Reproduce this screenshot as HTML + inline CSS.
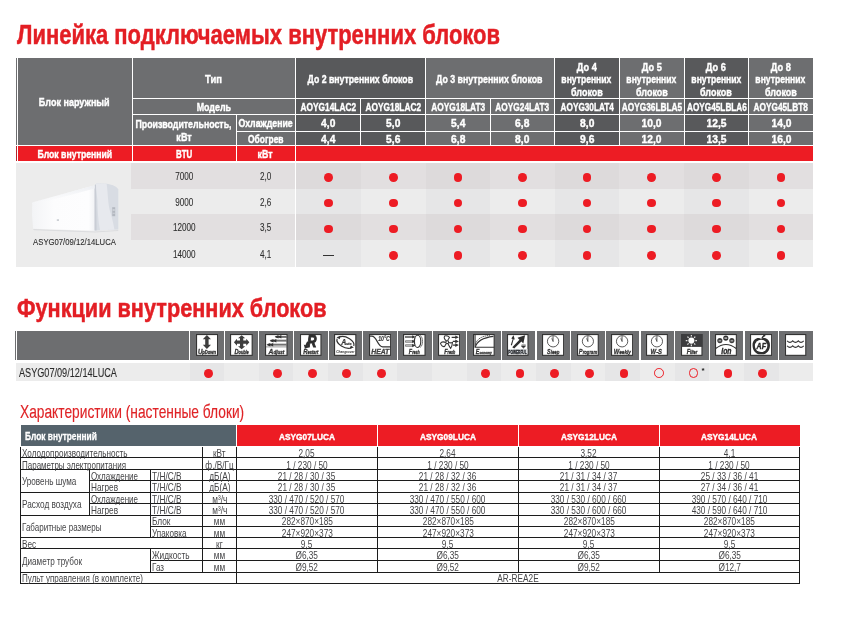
<!DOCTYPE html>
<html lang="ru"><head><meta charset="utf-8"><title>Линейка подключаемых внутренних блоков</title>
<style>
html,body{margin:0;padding:0;background:#fff}
body{width:851px;height:636px;position:relative;overflow:hidden;font-family:"Liberation Sans",sans-serif}
body>div,body>span,body>svg,body>i{position:absolute;display:block}
body{will-change:transform}
body>span{white-space:nowrap}
i.d{width:8.8px;height:8.8px;border-radius:50%;background:#ed1c24}
i.o{width:7.7px;height:7.7px;border-radius:50%;border:.65px solid #ed1c24}
</style></head><body>
<span style="top:21.80px;font-size:27px;line-height:27px;color:#e31e24;font-weight:700;-webkit-text-stroke:0.5px #e31e24;left:17px;transform-origin:0 0;transform:scaleX(0.8142);">Линейка подключаемых внутренних блоков</span>
<div style="left:16px;top:58px;width:1px;height:87px;background:#6d6e70;"></div>
<div style="left:16px;top:146px;width:1px;height:15px;background:#b5242a;"></div>
<div style="left:18px;top:58px;width:277.5px;height:87px;background:#6d6e70;"></div>
<div style="left:295.5px;top:58px;width:65px;height:87px;background:#58595b;"></div>
<div style="left:360.5px;top:58px;width:65px;height:87px;background:#58595b;"></div>
<div style="left:425.5px;top:58px;width:64.5px;height:87px;background:#6d6e70;"></div>
<div style="left:490px;top:58px;width:64.5px;height:87px;background:#6d6e70;"></div>
<div style="left:554.5px;top:58px;width:64.5px;height:87px;background:#58595b;"></div>
<div style="left:619px;top:58px;width:65px;height:87px;background:#6d6e70;"></div>
<div style="left:684px;top:58px;width:64.5px;height:87px;background:#58595b;"></div>
<div style="left:748.5px;top:58px;width:64.5px;height:87px;background:#6d6e70;"></div>
<div style="left:18px;top:146px;width:795px;height:15px;background:#ed1c24;"></div>
<div style="left:132px;top:98px;width:681px;height:1px;background:#fff;"></div>
<div style="left:132px;top:114px;width:681px;height:1px;background:#fff;"></div>
<div style="left:236px;top:130.5px;width:577px;height:1px;background:#fff;"></div>
<div style="left:16px;top:145px;width:797px;height:1px;background:#fff;"></div>
<div style="left:132px;top:58px;width:1px;height:103px;background:#fff;"></div>
<div style="left:236px;top:115px;width:1px;height:46px;background:#fff;"></div>
<div style="left:295px;top:58px;width:1px;height:103px;background:#fff;"></div>
<div style="left:360px;top:99px;width:1px;height:46px;background:#fff;"></div>
<div style="left:425px;top:58px;width:1px;height:87px;background:#fff;"></div>
<div style="left:489.5px;top:99px;width:1px;height:46px;background:#fff;"></div>
<div style="left:554px;top:58px;width:1px;height:87px;background:#fff;"></div>
<div style="left:618.5px;top:58px;width:1px;height:87px;background:#fff;"></div>
<div style="left:683.5px;top:58px;width:1px;height:87px;background:#fff;"></div>
<div style="left:748px;top:58px;width:1px;height:87px;background:#fff;"></div>
<span style="top:97.30px;font-size:11.8px;line-height:11.8px;color:#fff;font-weight:700;-webkit-text-stroke:0.42px #fff;left:28.36px;transform-origin:50% 0;transform:scaleX(0.7655);">Блок наружный</span>
<span style="top:74.20px;font-size:11.8px;line-height:11.8px;color:#fff;font-weight:700;-webkit-text-stroke:0.42px #fff;left:202.93px;transform-origin:50% 0;transform:scaleX(0.8000);">Тип</span>
<span style="top:102.20px;font-size:11.8px;line-height:11.8px;color:#fff;font-weight:700;-webkit-text-stroke:0.42px #fff;left:190.96px;transform-origin:50% 0;transform:scaleX(0.7530);">Модель</span>
<span style="top:118.90px;font-size:11.8px;line-height:11.8px;color:#fff;font-weight:700;-webkit-text-stroke:0.42px #fff;left:119.27px;transform-origin:50% 0;transform:scaleX(0.7439);">Производительность,</span>
<span style="top:131.50px;font-size:11.8px;line-height:11.8px;color:#fff;font-weight:700;-webkit-text-stroke:0.42px #fff;left:174.27px;transform-origin:50% 0;transform:scaleX(0.7631);">кВт</span>
<span style="top:117.60px;font-size:11.8px;line-height:11.8px;color:#fff;font-weight:700;-webkit-text-stroke:0.42px #fff;left:229.32px;transform-origin:50% 0;transform:scaleX(0.7422);">Охлаждение</span>
<span style="top:133.50px;font-size:11.8px;line-height:11.8px;color:#fff;font-weight:700;-webkit-text-stroke:0.42px #fff;left:240.99px;transform-origin:50% 0;transform:scaleX(0.7156);">Обогрев</span>
<span style="top:74.20px;font-size:11.8px;line-height:11.8px;color:#fff;font-weight:700;-webkit-text-stroke:0.42px #fff;left:288.99px;transform-origin:50% 0;transform:scaleX(0.7398);">До 2 внутренних блоков</span>
<span style="top:74.20px;font-size:11.8px;line-height:11.8px;color:#fff;font-weight:700;-webkit-text-stroke:0.42px #fff;left:418.49px;transform-origin:50% 0;transform:scaleX(0.7468);">До 3 внутренних блоков</span>
<span style="top:61.50px;font-size:11.8px;line-height:11.8px;color:#fff;font-weight:700;-webkit-text-stroke:0.42px #fff;left:573.95px;transform-origin:50% 0;transform:scaleX(0.7813);">До 4</span>
<span style="top:74.20px;font-size:11.8px;line-height:11.8px;color:#fff;font-weight:700;-webkit-text-stroke:0.42px #fff;left:552.40px;transform-origin:50% 0;transform:scaleX(0.7277);">внутренних</span>
<span style="top:86.60px;font-size:11.8px;line-height:11.8px;color:#fff;font-weight:700;-webkit-text-stroke:0.42px #fff;left:565.87px;transform-origin:50% 0;transform:scaleX(0.7616);">блоков</span>
<span style="top:61.50px;font-size:11.8px;line-height:11.8px;color:#fff;font-weight:700;-webkit-text-stroke:0.42px #fff;left:638.70px;transform-origin:50% 0;transform:scaleX(0.7813);">До 5</span>
<span style="top:74.20px;font-size:11.8px;line-height:11.8px;color:#fff;font-weight:700;-webkit-text-stroke:0.42px #fff;left:617.15px;transform-origin:50% 0;transform:scaleX(0.7277);">внутренних</span>
<span style="top:86.60px;font-size:11.8px;line-height:11.8px;color:#fff;font-weight:700;-webkit-text-stroke:0.42px #fff;left:630.62px;transform-origin:50% 0;transform:scaleX(0.7616);">блоков</span>
<span style="top:61.50px;font-size:11.8px;line-height:11.8px;color:#fff;font-weight:700;-webkit-text-stroke:0.42px #fff;left:703.45px;transform-origin:50% 0;transform:scaleX(0.7813);">До 6</span>
<span style="top:74.20px;font-size:11.8px;line-height:11.8px;color:#fff;font-weight:700;-webkit-text-stroke:0.42px #fff;left:681.90px;transform-origin:50% 0;transform:scaleX(0.7277);">внутренних</span>
<span style="top:86.60px;font-size:11.8px;line-height:11.8px;color:#fff;font-weight:700;-webkit-text-stroke:0.42px #fff;left:695.37px;transform-origin:50% 0;transform:scaleX(0.7616);">блоков</span>
<span style="top:61.50px;font-size:11.8px;line-height:11.8px;color:#fff;font-weight:700;-webkit-text-stroke:0.42px #fff;left:767.95px;transform-origin:50% 0;transform:scaleX(0.7813);">До 8</span>
<span style="top:74.20px;font-size:11.8px;line-height:11.8px;color:#fff;font-weight:700;-webkit-text-stroke:0.42px #fff;left:746.40px;transform-origin:50% 0;transform:scaleX(0.7277);">внутренних</span>
<span style="top:86.60px;font-size:11.8px;line-height:11.8px;color:#fff;font-weight:700;-webkit-text-stroke:0.42px #fff;left:759.87px;transform-origin:50% 0;transform:scaleX(0.7616);">блоков</span>
<span style="top:102.30px;font-size:11.8px;line-height:11.8px;color:#fff;font-weight:700;-webkit-text-stroke:0.42px #fff;left:288.96px;transform-origin:50% 0;transform:scaleX(0.7053);">AOYG14LAC2</span>
<span style="top:117.70px;font-size:11.8px;line-height:11.8px;color:#fff;font-weight:700;-webkit-text-stroke:0.42px #fff;left:320.10px;transform-origin:50% 0;transform:scaleX(0.8700);">4,0</span>
<span style="top:133.50px;font-size:11.8px;line-height:11.8px;color:#fff;font-weight:700;-webkit-text-stroke:0.42px #fff;left:320.10px;transform-origin:50% 0;transform:scaleX(0.8700);">4,4</span>
<span style="top:102.30px;font-size:11.8px;line-height:11.8px;color:#fff;font-weight:700;-webkit-text-stroke:0.42px #fff;left:353.96px;transform-origin:50% 0;transform:scaleX(0.7053);">AOYG18LAC2</span>
<span style="top:117.70px;font-size:11.8px;line-height:11.8px;color:#fff;font-weight:700;-webkit-text-stroke:0.42px #fff;left:385.10px;transform-origin:50% 0;transform:scaleX(0.8700);">5,0</span>
<span style="top:133.50px;font-size:11.8px;line-height:11.8px;color:#fff;font-weight:700;-webkit-text-stroke:0.42px #fff;left:385.10px;transform-origin:50% 0;transform:scaleX(0.8700);">5,6</span>
<span style="top:102.30px;font-size:11.8px;line-height:11.8px;color:#fff;font-weight:700;-webkit-text-stroke:0.42px #fff;left:419.80px;transform-origin:50% 0;transform:scaleX(0.7059);">AOYG18LAT3</span>
<span style="top:117.70px;font-size:11.8px;line-height:11.8px;color:#fff;font-weight:700;-webkit-text-stroke:0.42px #fff;left:449.85px;transform-origin:50% 0;transform:scaleX(0.8700);">5,4</span>
<span style="top:133.50px;font-size:11.8px;line-height:11.8px;color:#fff;font-weight:700;-webkit-text-stroke:0.42px #fff;left:449.85px;transform-origin:50% 0;transform:scaleX(0.8700);">6,8</span>
<span style="top:102.30px;font-size:11.8px;line-height:11.8px;color:#fff;font-weight:700;-webkit-text-stroke:0.42px #fff;left:484.30px;transform-origin:50% 0;transform:scaleX(0.7033);">AOYG24LAT3</span>
<span style="top:117.70px;font-size:11.8px;line-height:11.8px;color:#fff;font-weight:700;-webkit-text-stroke:0.42px #fff;left:514.35px;transform-origin:50% 0;transform:scaleX(0.8700);">6,8</span>
<span style="top:133.50px;font-size:11.8px;line-height:11.8px;color:#fff;font-weight:700;-webkit-text-stroke:0.42px #fff;left:514.35px;transform-origin:50% 0;transform:scaleX(0.8700);">8,0</span>
<span style="top:102.30px;font-size:11.8px;line-height:11.8px;color:#fff;font-weight:700;-webkit-text-stroke:0.42px #fff;left:548.80px;transform-origin:50% 0;transform:scaleX(0.6968);">AOYG30LAT4</span>
<span style="top:117.70px;font-size:11.8px;line-height:11.8px;color:#fff;font-weight:700;-webkit-text-stroke:0.42px #fff;left:578.85px;transform-origin:50% 0;transform:scaleX(0.8700);">8,0</span>
<span style="top:133.50px;font-size:11.8px;line-height:11.8px;color:#fff;font-weight:700;-webkit-text-stroke:0.42px #fff;left:578.85px;transform-origin:50% 0;transform:scaleX(0.8700);">9,6</span>
<span style="top:102.30px;font-size:11.8px;line-height:11.8px;color:#fff;font-weight:700;-webkit-text-stroke:0.42px #fff;left:608.85px;transform-origin:50% 0;transform:scaleX(0.7044);">AOYG36LBLA5</span>
<span style="top:117.70px;font-size:11.8px;line-height:11.8px;color:#fff;font-weight:700;-webkit-text-stroke:0.42px #fff;left:640.32px;transform-origin:50% 0;transform:scaleX(0.8700);">10,0</span>
<span style="top:133.50px;font-size:11.8px;line-height:11.8px;color:#fff;font-weight:700;-webkit-text-stroke:0.42px #fff;left:640.32px;transform-origin:50% 0;transform:scaleX(0.8700);">12,0</span>
<span style="top:102.30px;font-size:11.8px;line-height:11.8px;color:#fff;font-weight:700;-webkit-text-stroke:0.42px #fff;left:673.60px;transform-origin:50% 0;transform:scaleX(0.6962);">AOYG45LBLA6</span>
<span style="top:117.70px;font-size:11.8px;line-height:11.8px;color:#fff;font-weight:700;-webkit-text-stroke:0.42px #fff;left:705.07px;transform-origin:50% 0;transform:scaleX(0.8700);">12,5</span>
<span style="top:133.50px;font-size:11.8px;line-height:11.8px;color:#fff;font-weight:700;-webkit-text-stroke:0.42px #fff;left:705.07px;transform-origin:50% 0;transform:scaleX(0.8700);">13,5</span>
<span style="top:102.30px;font-size:11.8px;line-height:11.8px;color:#fff;font-weight:700;-webkit-text-stroke:0.42px #fff;left:742.36px;transform-origin:50% 0;transform:scaleX(0.7018);">AOYG45LBT8</span>
<span style="top:117.70px;font-size:11.8px;line-height:11.8px;color:#fff;font-weight:700;-webkit-text-stroke:0.42px #fff;left:769.57px;transform-origin:50% 0;transform:scaleX(0.8700);">14,0</span>
<span style="top:133.50px;font-size:11.8px;line-height:11.8px;color:#fff;font-weight:700;-webkit-text-stroke:0.42px #fff;left:769.57px;transform-origin:50% 0;transform:scaleX(0.8700);">16,0</span>
<span style="top:148.90px;font-size:11.8px;line-height:11.8px;color:#fff;font-weight:700;-webkit-text-stroke:0.42px #fff;left:23.59px;transform-origin:50% 0;transform:scaleX(0.7361);">Блок внутренний</span>
<span style="top:148.80px;font-size:11.8px;line-height:11.8px;color:#fff;font-weight:700;-webkit-text-stroke:0.42px #fff;left:171.77px;transform-origin:50% 0;transform:scaleX(0.6721);">BTU</span>
<span style="top:148.70px;font-size:11.8px;line-height:11.8px;color:#fff;font-weight:700;-webkit-text-stroke:0.42px #fff;left:255.47px;transform-origin:50% 0;transform:scaleX(0.7481);">кВт</span>
<div style="left:16px;top:163px;width:116px;height:103.6px;background:#ececec;"></div>
<div style="left:131.3px;top:163px;width:164.2px;height:25.5px;background:#e2dfe0;"></div>
<div style="left:295.5px;top:163px;width:65px;height:25.5px;background:#dddadb;"></div>
<div style="left:360.5px;top:163px;width:65px;height:25.5px;background:#e2dfe0;"></div>
<div style="left:425.5px;top:163px;width:64.5px;height:25.5px;background:#dddadb;"></div>
<div style="left:490px;top:163px;width:64.5px;height:25.5px;background:#e2dfe0;"></div>
<div style="left:554.5px;top:163px;width:64.5px;height:25.5px;background:#dddadb;"></div>
<div style="left:619px;top:163px;width:65px;height:25.5px;background:#e2dfe0;"></div>
<div style="left:684px;top:163px;width:64.5px;height:25.5px;background:#dddadb;"></div>
<div style="left:748.5px;top:163px;width:64.5px;height:25.5px;background:#e2dfe0;"></div>
<div style="left:131.3px;top:188.5px;width:164.2px;height:25.7px;background:#ececec;"></div>
<div style="left:295.5px;top:188.5px;width:65px;height:25.7px;background:#e6e6e7;"></div>
<div style="left:360.5px;top:188.5px;width:65px;height:25.7px;background:#ececec;"></div>
<div style="left:425.5px;top:188.5px;width:64.5px;height:25.7px;background:#e6e6e7;"></div>
<div style="left:490px;top:188.5px;width:64.5px;height:25.7px;background:#ececec;"></div>
<div style="left:554.5px;top:188.5px;width:64.5px;height:25.7px;background:#e6e6e7;"></div>
<div style="left:619px;top:188.5px;width:65px;height:25.7px;background:#ececec;"></div>
<div style="left:684px;top:188.5px;width:64.5px;height:25.7px;background:#e6e6e7;"></div>
<div style="left:748.5px;top:188.5px;width:64.5px;height:25.7px;background:#ececec;"></div>
<div style="left:131.3px;top:214.2px;width:164.2px;height:26.2px;background:#e2dfe0;"></div>
<div style="left:295.5px;top:214.2px;width:65px;height:26.2px;background:#dddadb;"></div>
<div style="left:360.5px;top:214.2px;width:65px;height:26.2px;background:#e2dfe0;"></div>
<div style="left:425.5px;top:214.2px;width:64.5px;height:26.2px;background:#dddadb;"></div>
<div style="left:490px;top:214.2px;width:64.5px;height:26.2px;background:#e2dfe0;"></div>
<div style="left:554.5px;top:214.2px;width:64.5px;height:26.2px;background:#dddadb;"></div>
<div style="left:619px;top:214.2px;width:65px;height:26.2px;background:#e2dfe0;"></div>
<div style="left:684px;top:214.2px;width:64.5px;height:26.2px;background:#dddadb;"></div>
<div style="left:748.5px;top:214.2px;width:64.5px;height:26.2px;background:#e2dfe0;"></div>
<div style="left:131.3px;top:240.4px;width:164.2px;height:26.2px;background:#ececec;"></div>
<div style="left:295.5px;top:240.4px;width:65px;height:26.2px;background:#e6e6e7;"></div>
<div style="left:360.5px;top:240.4px;width:65px;height:26.2px;background:#ececec;"></div>
<div style="left:425.5px;top:240.4px;width:64.5px;height:26.2px;background:#e6e6e7;"></div>
<div style="left:490px;top:240.4px;width:64.5px;height:26.2px;background:#ececec;"></div>
<div style="left:554.5px;top:240.4px;width:64.5px;height:26.2px;background:#e6e6e7;"></div>
<div style="left:619px;top:240.4px;width:65px;height:26.2px;background:#ececec;"></div>
<div style="left:684px;top:240.4px;width:64.5px;height:26.2px;background:#e6e6e7;"></div>
<div style="left:748.5px;top:240.4px;width:64.5px;height:26.2px;background:#ececec;"></div>
<span style="top:170.90px;font-size:11px;line-height:11px;color:#2e2e2e;-webkit-text-stroke:0.1px #2e2e2e;left:171.67px;transform-origin:50% 0;transform:scaleX(0.7400);">7000</span>
<span style="top:170.90px;font-size:11px;line-height:11px;color:#2e2e2e;-webkit-text-stroke:0.1px #2e2e2e;left:258.36px;transform-origin:50% 0;transform:scaleX(0.7400);">2,0</span>
<i class="d" style="left:323.90px;top:173.10px"></i>
<i class="d" style="left:388.90px;top:173.10px"></i>
<i class="d" style="left:453.65px;top:173.10px"></i>
<i class="d" style="left:518.15px;top:173.10px"></i>
<i class="d" style="left:582.65px;top:173.10px"></i>
<i class="d" style="left:647.40px;top:173.10px"></i>
<i class="d" style="left:712.15px;top:173.10px"></i>
<i class="d" style="left:776.65px;top:173.10px"></i>
<span style="top:196.50px;font-size:11px;line-height:11px;color:#2e2e2e;-webkit-text-stroke:0.1px #2e2e2e;left:171.67px;transform-origin:50% 0;transform:scaleX(0.7400);">9000</span>
<span style="top:196.50px;font-size:11px;line-height:11px;color:#2e2e2e;-webkit-text-stroke:0.1px #2e2e2e;left:258.36px;transform-origin:50% 0;transform:scaleX(0.7400);">2,6</span>
<i class="d" style="left:323.90px;top:198.70px"></i>
<i class="d" style="left:388.90px;top:198.70px"></i>
<i class="d" style="left:453.65px;top:198.70px"></i>
<i class="d" style="left:518.15px;top:198.70px"></i>
<i class="d" style="left:582.65px;top:198.70px"></i>
<i class="d" style="left:647.40px;top:198.70px"></i>
<i class="d" style="left:712.15px;top:198.70px"></i>
<i class="d" style="left:776.65px;top:198.70px"></i>
<span style="top:222.45px;font-size:11px;line-height:11px;color:#2e2e2e;-webkit-text-stroke:0.1px #2e2e2e;left:168.61px;transform-origin:50% 0;transform:scaleX(0.7400);">12000</span>
<span style="top:222.45px;font-size:11px;line-height:11px;color:#2e2e2e;-webkit-text-stroke:0.1px #2e2e2e;left:258.36px;transform-origin:50% 0;transform:scaleX(0.7400);">3,5</span>
<i class="d" style="left:323.90px;top:224.65px"></i>
<i class="d" style="left:388.90px;top:224.65px"></i>
<i class="d" style="left:453.65px;top:224.65px"></i>
<i class="d" style="left:518.15px;top:224.65px"></i>
<i class="d" style="left:582.65px;top:224.65px"></i>
<i class="d" style="left:647.40px;top:224.65px"></i>
<i class="d" style="left:712.15px;top:224.65px"></i>
<i class="d" style="left:776.65px;top:224.65px"></i>
<span style="top:248.65px;font-size:11px;line-height:11px;color:#2e2e2e;-webkit-text-stroke:0.1px #2e2e2e;left:168.61px;transform-origin:50% 0;transform:scaleX(0.7400);">14000</span>
<span style="top:248.65px;font-size:11px;line-height:11px;color:#2e2e2e;-webkit-text-stroke:0.1px #2e2e2e;left:258.36px;transform-origin:50% 0;transform:scaleX(0.7400);">4,1</span>
<div style="left:322.5px;top:254.8px;width:11.5px;height:1px;background:#333;"></div>
<i class="d" style="left:388.90px;top:250.85px"></i>
<i class="d" style="left:453.65px;top:250.85px"></i>
<i class="d" style="left:518.15px;top:250.85px"></i>
<i class="d" style="left:582.65px;top:250.85px"></i>
<i class="d" style="left:647.40px;top:250.85px"></i>
<i class="d" style="left:712.15px;top:250.85px"></i>
<i class="d" style="left:776.65px;top:250.85px"></i>
<span style="top:237.21px;font-size:9.6px;line-height:9.6px;color:#2a2a2a;-webkit-text-stroke:0.1px #2a2a2a;left:23.10px;transform-origin:50% 0;transform:scaleX(0.8039);">ASYG07/09/12/14LUCA</span>
<svg style="left:28px;top:180px" width="96" height="56" viewBox="0 0 96 56">
<defs>
<linearGradient id="ga" x1="0" y1="0" x2="1" y2="0"><stop offset="0" stop-color="#f3f4f6"/><stop offset=".35" stop-color="#fcfcfd"/><stop offset=".9" stop-color="#fdfdfe"/><stop offset="1" stop-color="#f1f2f5"/></linearGradient>
<linearGradient id="gb" x1="0" y1="0" x2="1" y2="0"><stop offset="0" stop-color="#cdd1d9"/><stop offset=".22" stop-color="#dde0e7"/><stop offset=".6" stop-color="#e9ebf0"/><stop offset="1" stop-color="#dcdfe6"/></linearGradient>
<linearGradient id="gc" x1="0" y1="0" x2="0" y2="1"><stop offset="0" stop-color="#eceef2"/><stop offset="1" stop-color="#f8f9fa" stop-opacity="0"/></linearGradient>
<filter id="bl" x="-10%" y="-10%" width="120%" height="120%"><feGaussianBlur stdDeviation=".45"/></filter>
</defs>
<g filter="url(#bl)">
<path d="M5 49 L67 51.4 L90.3 50 L90.3 51 L67 52.6 L6 50.3Z" fill="#dcdddf"/>
<path d="M4.2 22.6 L66.8 5.2 L66.8 50.8 L5.2 48.8 Q3.4 36 4.2 22.6Z" fill="url(#ga)"/>
<path d="M66.6 5.4 L68.4 3.6 L79 3.7 C85 4.6 89 6.6 90.3 9.4 L90.3 49.6 L66.6 50.6Z" fill="#d8dce3"/>
<path d="M67.6 4.4 L68.4 3.6 L78.6 3.7 C80.2 14 79.6 24 82.6 33 C84.2 39 85.6 44 86.4 49.8 L72 50.3 C70 40 69.6 30 69.4 20 Z" fill="#e7e9ee"/>
<path d="M66.6 5.4 L68 4.2 L68.6 50.5 L66.6 50.6Z" fill="#c9cdd5"/>
<path d="M4.2 22.6 L66.8 5.2 L66.8 8.6 L4.1 25.2Z" fill="url(#gc)"/>
<rect x="84.2" y="27.2" width="3" height="9" fill="#b3b8c0"/>
<rect x="84.6" y="29.4" width="2.2" height="1.2" fill="#dde0e5"/><rect x="84.6" y="32.8" width="2.2" height="1" fill="#cfd3d9"/>
<rect x="28.8" y="39.2" width="2.2" height="1.8" fill="#cdd0d5"/>
</g>
</svg>
<span style="top:294.80px;font-size:26px;line-height:26px;color:#e31e24;font-weight:700;-webkit-text-stroke:0.5px #e31e24;left:17px;transform-origin:0 0;transform:scaleX(0.8339);">Функции внутренних блоков</span>
<div style="left:15px;top:331px;width:1px;height:29px;background:#6d6e70;"></div>
<div style="left:17px;top:331px;width:796px;height:29px;background:#6d6e70;"></div>
<div style="left:16px;top:362.7px;width:797px;height:18px;background:#ececec;"></div>
<div style="left:188.95px;top:331px;width:1.2px;height:29px;background:#fff;"></div>
<div style="left:189.55px;top:362.7px;width:34.65px;height:18px;background:#e6e6e7;"></div>
<div style="left:223.6px;top:331px;width:1.2px;height:29px;background:#fff;"></div>
<div style="left:258.25px;top:331px;width:1.2px;height:29px;background:#fff;"></div>
<div style="left:258.85px;top:362.7px;width:34.65px;height:18px;background:#e6e6e7;"></div>
<div style="left:292.9px;top:331px;width:1.2px;height:29px;background:#fff;"></div>
<div style="left:327.55px;top:331px;width:1.2px;height:29px;background:#fff;"></div>
<div style="left:328.15px;top:362.7px;width:34.65px;height:18px;background:#e6e6e7;"></div>
<div style="left:362.2px;top:331px;width:1.2px;height:29px;background:#fff;"></div>
<div style="left:396.85px;top:331px;width:1.2px;height:29px;background:#fff;"></div>
<div style="left:397.45px;top:362.7px;width:34.65px;height:18px;background:#e6e6e7;"></div>
<div style="left:431.5px;top:331px;width:1.2px;height:29px;background:#fff;"></div>
<div style="left:466.15px;top:331px;width:1.2px;height:29px;background:#fff;"></div>
<div style="left:466.75px;top:362.7px;width:34.65px;height:18px;background:#e6e6e7;"></div>
<div style="left:500.8px;top:331px;width:1.2px;height:29px;background:#fff;"></div>
<div style="left:535.45px;top:331px;width:1.2px;height:29px;background:#fff;"></div>
<div style="left:536.05px;top:362.7px;width:34.65px;height:18px;background:#e6e6e7;"></div>
<div style="left:570.1px;top:331px;width:1.2px;height:29px;background:#fff;"></div>
<div style="left:604.75px;top:331px;width:1.2px;height:29px;background:#fff;"></div>
<div style="left:605.35px;top:362.7px;width:34.65px;height:18px;background:#e6e6e7;"></div>
<div style="left:639.4px;top:331px;width:1.2px;height:29px;background:#fff;"></div>
<div style="left:674.05px;top:331px;width:1.2px;height:29px;background:#fff;"></div>
<div style="left:674.65px;top:362.7px;width:34.65px;height:18px;background:#e6e6e7;"></div>
<div style="left:708.7px;top:331px;width:1.2px;height:29px;background:#fff;"></div>
<div style="left:743.35px;top:331px;width:1.2px;height:29px;background:#fff;"></div>
<div style="left:743.95px;top:362.7px;width:34.65px;height:18px;background:#e6e6e7;"></div>
<div style="left:778px;top:331px;width:1.2px;height:29px;background:#fff;"></div>
<span style="top:366.70px;font-size:12.2px;line-height:12.2px;color:#2a2a2a;-webkit-text-stroke:0.1px #2a2a2a;left:18.9px;transform-origin:0 0;transform:scaleX(0.7487);">ASYG07/09/12/14LUCA</span>
<i class="d" style="left:203.78px;top:368.90px"></i>
<i class="d" style="left:273.08px;top:368.90px"></i>
<i class="d" style="left:307.73px;top:368.90px"></i>
<i class="d" style="left:342.38px;top:368.90px"></i>
<i class="d" style="left:377.03px;top:368.90px"></i>
<i class="d" style="left:480.98px;top:368.90px"></i>
<i class="d" style="left:515.62px;top:368.90px"></i>
<i class="d" style="left:550.27px;top:368.90px"></i>
<i class="d" style="left:584.92px;top:368.90px"></i>
<i class="d" style="left:619.57px;top:368.90px"></i>
<i class="o" style="left:654.12px;top:368.30px"></i>
<i class="o" style="left:688.77px;top:368.30px"></i>
<i class="d" style="left:723.52px;top:368.90px"></i>
<i class="d" style="left:758.18px;top:368.90px"></i>
<span style="top:367.49px;font-size:8px;line-height:8px;color:#1a1a1a;font-weight:700;left:701.6px;transform-origin:0 0;transform:scaleX(1.0000);">*</span>
<svg style="left:195.90px;top:334.05px" width="22.10" height="21.9" viewBox="0 0 22.1 21.9" preserveAspectRatio="none"><rect x=".55" y=".55" width="21" height="20.8" fill="#fff" stroke="#333" stroke-width="1.1"/><path d="M10.9 .9L15 5.2H12.6V10.8H15L10.9 15.1L6.8 10.8H9.2V5.2H6.8Z" fill="#3d3d3d"/><text x="1.9" y="20.0" font-family="Liberation Sans, sans-serif" font-style="italic" font-weight="700" fill="#333" stroke="#333" stroke-width=".3" textLength="18.10" lengthAdjust="spacingAndGlyphs"><tspan font-size="7.2">U</tspan><tspan font-size="4.8">pDown</tspan></text></svg>
<svg style="left:230.00px;top:334.05px" width="22.75" height="21.9" viewBox="0 0 22.1 21.9" preserveAspectRatio="none"><rect x=".55" y=".55" width="21" height="20.8" fill="#fff" stroke="#333" stroke-width="1.1"/><path d="M11.3 1.2L14.8 4.2H12.9V6.6H15.8V4.7L18.8 8.2L15.8 11.7V9.8H12.9V12.2H14.8L11.3 15.2L7.8 12.2H9.7V9.8H6.8V11.7L3.8 8.2L6.8 4.7V6.6H9.7V4.2H7.8Z" fill="#3d3d3d"/><text x="4.3" y="20.0" font-family="Liberation Sans, sans-serif" font-style="italic" font-weight="700" fill="#333" stroke="#333" stroke-width=".3" textLength="13.90" lengthAdjust="spacingAndGlyphs"><tspan font-size="7.2">D</tspan><tspan font-size="4.8">ouble</tspan></text></svg>
<svg style="left:265.20px;top:334.05px" width="22.60" height="21.9" viewBox="0 0 22.1 21.9" preserveAspectRatio="none"><rect x=".55" y=".55" width="21" height="20.8" fill="#fff" stroke="#333" stroke-width="1.1"/><path d="M10.4 2.8H21.5M5.5 6.7H21.5M2.6 10.7H21.5" stroke="#4a4a4a" stroke-width="1.7"/><path d="M13 2.8H21.5M8 6.7H21.5M5 10.7H21.5" stroke="#d8d8d8" stroke-width=".35"/><path d="M1 12.9H21.5" stroke="#555" stroke-width=".6"/><path d="M9.4 2.8L13.2 1V4.6ZM12.2 2.8L16 1V4.6ZM4.5 6.7L8.3 4.9V8.5ZM7.3 6.7L11.1 4.9V8.5ZM1.4 10.7L5.2 8.9V12.5ZM4.2 10.7L8 8.9V12.5Z" fill="#333"/><text x="3.5" y="20.0" font-family="Liberation Sans, sans-serif" font-style="italic" font-weight="700" fill="#333" stroke="#333" stroke-width=".3" textLength="15.40" lengthAdjust="spacingAndGlyphs"><tspan font-size="7.2">A</tspan><tspan font-size="4.8">djust</tspan></text></svg>
<svg style="left:300.10px;top:334.05px" width="21.50" height="21.9" viewBox="0 0 22.1 21.9" preserveAspectRatio="none"><rect x=".55" y=".55" width="21" height="20.8" fill="#fff" stroke="#333" stroke-width="1.1"/><text x="7.4" y="12.7" font-family="Liberation Sans, sans-serif" font-size="16.6" font-style="italic" font-weight="700" fill="#2e2e2e" stroke="#2e2e2e" stroke-width="1.1" textLength="9.4" lengthAdjust="spacingAndGlyphs">R</text><path d="M9.4 8.6L7.6 12.3L9.3 13.1L5.1 14.8L3.9 10.5L5.5 11.3L7.3 7.6Z" fill="#2e2e2e"/><text x="3.3" y="20.0" font-family="Liberation Sans, sans-serif" font-style="italic" font-weight="700" fill="#333" stroke="#333" stroke-width=".3" textLength="15.60" lengthAdjust="spacingAndGlyphs"><tspan font-size="7.2">R</tspan><tspan font-size="4.8">estart</tspan></text></svg>
<svg style="left:334.40px;top:334.05px" width="22.40" height="21.9" viewBox="0 0 22.1 21.9" preserveAspectRatio="none"><rect x=".55" y=".55" width="21" height="20.8" fill="#fff" stroke="#333" stroke-width="1.1"/><g transform="rotate(24 11.3 8.3)" fill="none" stroke="#333" stroke-width="1.2"><path d="M3.6 5.8A9 5.4 0 0 1 20.3 8.3"/><path d="M19 10.8A9 5.4 0 0 1 2.3 8.3"/></g><path d="M2.4 3.2L6.6 1.7L5.6 5.2ZM19.6 13.6L15.4 14.7L16.6 11.4Z" fill="#333"/><text x="7.2" y="11.3" font-family="Liberation Sans, sans-serif" font-style="italic" font-weight="700" fill="#333" stroke="#333" stroke-width=".25" textLength="10" lengthAdjust="spacingAndGlyphs"><tspan font-size="8.2">A</tspan><tspan font-size="3.8">uto</tspan></text><text x="2.2" y="19.2" font-family="Liberation Sans, sans-serif" font-style="italic" font-weight="700" font-size="3.9" fill="#333" textLength="18.10" lengthAdjust="spacingAndGlyphs">Changeover</text></svg>
<svg style="left:369.10px;top:334.05px" width="22.20" height="21.9" viewBox="0 0 22.1 21.9" preserveAspectRatio="none"><rect x=".55" y=".55" width="21" height="20.8" fill="#fff" stroke="#333" stroke-width="1.1"/><path d="M.6 2.1H2.8C8 2.1 8.4 12.8 13.6 12.8H21.5" fill="none" stroke="#333" stroke-width="1.3"/><text x="9.2" y="6.8" font-family="Liberation Sans, sans-serif" font-style="italic" stroke="#333" stroke-width="0.12" font-weight="700" font-size="6.8" fill="#333" textLength="11.60" lengthAdjust="spacingAndGlyphs">10°C</text><text x="2.2" y="19.9" font-family="Liberation Sans, sans-serif" font-style="italic" stroke="#444" stroke-width="0.3" font-weight="700" font-size="6.6" fill="#444" textLength="18.00" lengthAdjust="spacingAndGlyphs">HEAT</text></svg>
<svg style="left:403.20px;top:334.05px" width="22.60" height="21.9" viewBox="0 0 22.1 21.9" preserveAspectRatio="none"><rect x=".55" y=".55" width="21" height="20.8" fill="#fff" stroke="#333" stroke-width="1.1"/><path d="M2.2 2.9H9.6M2.2 7.4H9.6M2.2 11.5H9.6" stroke="#444" stroke-width="2"/><path d="M2.6 2.9H9M2.6 7.4H9M2.6 11.5H9" stroke="#b5b5b5" stroke-width="1"/><path d="M9 1.2L12.4 2.9L9 4.6ZM9 5.7L12.4 7.4L9 9.1ZM9 9.8L12.4 11.5L9 13.2Z" fill="#333"/><ellipse cx="14.3" cy="7.4" rx="3.1" ry="6.1" fill="#fff" stroke="#333" stroke-width="1.1"/><path d="M11.6 4.4C10.6 6 10.6 8.8 11.6 10.4" fill="none" stroke="#333" stroke-width=".9"/><path d="M16.8 1.4C19.9 3.4 19.9 11.4 16.8 13.4" fill="none" stroke="#666" stroke-width=".9"/><text x="5.7" y="20.0" font-family="Liberation Sans, sans-serif" font-style="italic" font-weight="700" fill="#333" stroke="#333" stroke-width=".3" textLength="10.70" lengthAdjust="spacingAndGlyphs"><tspan font-size="7.2">F</tspan><tspan font-size="4.8">resh</tspan></text></svg>
<svg style="left:438.10px;top:334.05px" width="22.20" height="21.9" viewBox="0 0 22.1 21.9" preserveAspectRatio="none"><rect x=".55" y=".55" width="21" height="20.8" fill="#fff" stroke="#333" stroke-width="1.1"/><g fill="none" stroke="#333" stroke-width="1.05"><path d="M8.6 7C6.4 5.6 5.6 3.4 6.6 2C8.4 1.4 10.8 2.2 11.4 3.4C10.6 4.8 9.8 5.8 9.6 6.9"/><path d="M8 8.6C5.6 7.6 3.4 7.8 2.5 9.2C2.9 11.4 4.8 12.8 6.4 12.6C7.2 11.4 7.6 10.2 8.6 9.4"/><path d="M10.4 8.6C12 9 13.4 9 14.4 8.4C14.2 11 13.6 13.2 12.6 14.4C11.4 12.8 10.6 11.2 9.8 9.6"/><circle cx="9.2" cy="8.2" r="1.4" fill="#fff"/></g><path d="M13.6 3.3H18.6M14.8 7.4H18.6M15 11.1H18.6" stroke="#333" stroke-width="1.2"/><path d="M17.2 1.5L20.8 3.3L17.2 5.1ZM17.2 5.6L20.8 7.4L17.2 9.2ZM17.2 9.3L20.8 11.1L17.2 12.9Z" fill="#333"/><text x="6.2" y="20.0" font-family="Liberation Sans, sans-serif" font-style="italic" font-weight="700" fill="#333" stroke="#333" stroke-width=".3" textLength="11.10" lengthAdjust="spacingAndGlyphs"><tspan font-size="7.2">F</tspan><tspan font-size="4.8">resh</tspan></text></svg>
<svg style="left:473.20px;top:334.05px" width="21.70" height="21.9" viewBox="0 0 22.1 21.9" preserveAspectRatio="none"><rect x=".55" y=".55" width="21" height="20.8" fill="#fff" stroke="#333" stroke-width="1.1"/><path d="M2.1 .6V13.2H21.5" stroke="#333" stroke-width="1.1" fill="none"/><path d="M2.4 13C3.6 8.4 8 4 20.8 2.4" fill="none" stroke="#333" stroke-width="1.1"/><path d="M2.6 10.6C3.4 5.8 8 2 17 1.5" fill="none" stroke="#333" stroke-width=".9" stroke-dasharray="1.4 .8"/><text x="2.9" y="20.0" font-family="Liberation Sans, sans-serif" font-style="italic" font-weight="700" fill="#333" stroke="#333" stroke-width=".3" textLength="16.40" lengthAdjust="spacingAndGlyphs"><tspan font-size="7.2">E</tspan><tspan font-size="4.4">conomy</tspan></text></svg>
<svg style="left:507.10px;top:334.05px" width="21.50" height="21.9" viewBox="0 0 22.1 21.9" preserveAspectRatio="none"><rect x=".55" y=".55" width="21" height="20.8" fill="#fff" stroke="#333" stroke-width="1.1"/><path d="M3.9 11L5.8 5L4.4 4.6L6.7 1.2L8 5.6L6.8 5.2L5 11.4Z" fill="#2e2e2e"/><path d="M5.4 13.2L12.8 5.8L10.8 3.8L18.6 1.3L16.8 9.6L14.8 7.6L7.4 14.6Z" fill="#2e2e2e"/><path d="M15 11H19.2M14.8 12.1L16.9 14L19 12.1Z" stroke="#2e2e2e" stroke-width=".7" fill="#2e2e2e"/><rect x="1.1" y="15" width="19.9" height="5" fill="#d9dcdf"/><text x="1.3" y="19.6" font-family="Liberation Sans, sans-serif" stroke="#1f2126" stroke-width="0.35" font-weight="700" font-size="5.8" fill="#1f2126" textLength="18.90" lengthAdjust="spacingAndGlyphs">POWERFUL</text></svg>
<svg style="left:542.20px;top:334.05px" width="22.20" height="21.9" viewBox="0 0 22.1 21.9" preserveAspectRatio="none"><rect x=".55" y=".55" width="21" height="20.8" fill="#fff" stroke="#333" stroke-width="1.1"/><path d="M11.05 7.3L9.3 3.6A4.1 4.1 0 0 1 11.05 3.2Z" fill="#c9c9c9"/><circle cx="11.05" cy="7.3" r="5.65" fill="none" stroke="#333" stroke-width=".8"/><path d="M11.05 7.7V1.9M11.05 7.5L9.7 4.4" stroke="#333" stroke-width=".7" fill="none"/><text x="5.0" y="20.0" font-family="Liberation Sans, sans-serif" font-style="italic" font-weight="700" fill="#333" stroke="#333" stroke-width=".3" textLength="12.50" lengthAdjust="spacingAndGlyphs"><tspan font-size="7.6">S</tspan><tspan font-size="6.2">leep</tspan></text></svg>
<svg style="left:577.10px;top:334.05px" width="21.80" height="21.9" viewBox="0 0 22.1 21.9" preserveAspectRatio="none"><rect x=".55" y=".55" width="21" height="20.8" fill="#fff" stroke="#333" stroke-width="1.1"/><path d="M11.05 7.3L9.3 3.6A4.1 4.1 0 0 1 11.05 3.2Z" fill="#c9c9c9"/><circle cx="11.05" cy="7.3" r="5.65" fill="none" stroke="#333" stroke-width=".8"/><path d="M11.05 7.7V1.9M11.05 7.5L9.7 4.4" stroke="#333" stroke-width=".7" fill="none"/><text x="1.9" y="20.0" font-family="Liberation Sans, sans-serif" font-style="italic" font-weight="700" fill="#333" stroke="#333" stroke-width=".3" textLength="18.50" lengthAdjust="spacingAndGlyphs"><tspan font-size="7.6">P</tspan><tspan font-size="5.6">rogram</tspan></text></svg>
<svg style="left:611.20px;top:334.05px" width="22.20" height="21.9" viewBox="0 0 22.1 21.9" preserveAspectRatio="none"><rect x=".55" y=".55" width="21" height="20.8" fill="#fff" stroke="#333" stroke-width="1.1"/><path d="M11.05 7.3L9.3 3.6A4.1 4.1 0 0 1 11.05 3.2Z" fill="#c9c9c9"/><circle cx="11.05" cy="7.3" r="5.65" fill="none" stroke="#333" stroke-width=".8"/><path d="M11.05 7.7V1.9M11.05 7.5L9.7 4.4" stroke="#333" stroke-width=".7" fill="none"/><text x="2.7" y="20.0" font-family="Liberation Sans, sans-serif" font-style="italic" font-weight="700" fill="#333" stroke="#333" stroke-width=".3" textLength="17.20" lengthAdjust="spacingAndGlyphs"><tspan font-size="7.6">W</tspan><tspan font-size="6.2">eekly</tspan></text></svg>
<svg style="left:646.40px;top:334.05px" width="21.90" height="21.9" viewBox="0 0 22.1 21.9" preserveAspectRatio="none"><rect x=".55" y=".55" width="21" height="20.8" fill="#fff" stroke="#333" stroke-width="1.1"/><path d="M11.05 7.3L9.3 3.6A4.1 4.1 0 0 1 11.05 3.2Z" fill="#c9c9c9"/><circle cx="11.05" cy="7.3" r="5.65" fill="none" stroke="#333" stroke-width=".8"/><path d="M11.05 7.7V1.9M11.05 7.5L9.7 4.4" stroke="#333" stroke-width=".7" fill="none"/><text x="4.6" y="20.0" font-family="Liberation Sans, sans-serif" font-style="italic" font-weight="700" fill="#333" stroke="#333" stroke-width=".3" textLength="11.60" lengthAdjust="spacingAndGlyphs"><tspan font-size="7.6">W</tspan><tspan font-size="7.6">-S</tspan></text></svg>
<svg style="left:681.10px;top:334.05px" width="21.50" height="21.9" viewBox="0 0 22.1 21.9" preserveAspectRatio="none"><rect x=".55" y=".55" width="21" height="20.8" fill="#fff" stroke="#333" stroke-width="1.1"/><rect x="0" y="0" width="22.1" height="12.9" fill="#3c3c3e"/><circle cx="10.65" cy="6.6" r="3.1" fill="#fff"/><path d="M10.65 .9V2.6M10.65 10.6V12.3M4.9 6.6H6.6M14.7 6.6H16.4M6.6 2.6L7.8 3.8M13.5 9.4L14.7 10.6M14.7 2.6L13.5 3.8M7.8 9.4L6.6 10.6" stroke="#e8e8e8" stroke-width="1.2"/><text x="5.9" y="20.0" font-family="Liberation Sans, sans-serif" font-style="italic" font-weight="700" fill="#333" stroke="#333" stroke-width=".3" textLength="10.70" lengthAdjust="spacingAndGlyphs"><tspan font-size="6.6">F</tspan><tspan font-size="4.6">ilter</tspan></text></svg>
<svg style="left:715.40px;top:334.05px" width="21.90" height="21.9" viewBox="0 0 22.1 21.9" preserveAspectRatio="none"><rect x=".55" y=".55" width="21" height="20.8" fill="#fff" stroke="#333" stroke-width="1.1"/><path d="M.6 14.6Q11.05 6.4 21.5 14.6" fill="none" stroke="#333" stroke-width="1.2"/><circle cx="4.9" cy="6.6" r="2.6" fill="#3e3e3e"/><circle cx="10.9" cy="4.1" r="2.6" fill="#2e2e2e"/><circle cx="17" cy="6.6" r="2.6" fill="#3e3e3e"/><path d="M3.6 6.8H6.2M15.7 6.8H18.3" stroke="#9a9a9a" stroke-width="1.4"/><path d="M9.5 4.1H12.3" stroke="#eee" stroke-width="1.1"/><text x="6.3" y="19.9" font-family="Liberation Sans, sans-serif" font-style="italic" stroke="#2a2a2a" stroke-width="0.4" font-weight="700" font-size="8.9" fill="#2a2a2a" textLength="10.30" lengthAdjust="spacingAndGlyphs">Ion</text></svg>
<svg style="left:750.20px;top:334.05px" width="22.20" height="21.9" viewBox="0 0 22.1 21.9" preserveAspectRatio="none"><rect x=".55" y=".55" width="21" height="20.8" fill="#fff" stroke="#333" stroke-width="1.1"/><path d="M11.2 5C8.6 2.9 2.4 4.4 2.5 11.4C2.6 16.6 6.4 21 11.2 20.2C16 21 19.8 16.6 19.9 11.4C20 4.4 13.8 2.9 11.2 5Z" fill="#2e2e2e"/><circle cx="11.05" cy="11.9" r="6.2" fill="#fff"/><path d="M11.9 4.6C12.2 3.2 13.4 1.8 15.2 1.2" fill="none" stroke="#2e2e2e" stroke-width="1.5"/><text x="6.6" y="14.9" font-family="Liberation Sans, sans-serif" font-style="italic" stroke="#2a2a2a" stroke-width="0.4" font-weight="700" font-size="8.4" fill="#2a2a2a" textLength="9.40" lengthAdjust="spacingAndGlyphs">AF</text></svg>
<svg style="left:785.40px;top:334.05px" width="21.30" height="21.9" viewBox="0 0 22.1 21.9" preserveAspectRatio="none"><rect x=".55" y=".55" width="21" height="20.8" fill="#fff" stroke="#333" stroke-width="1.1"/><path d="M2.2 6.9Q5.1 9.7 8 6.9Q10.9 9.7 13.8 6.9Q16.6 9.7 19.4 6.9M2.2 11.9Q5.1 14.7 8 11.9Q10.9 14.7 13.8 11.9Q16.6 14.7 19.4 11.9" fill="none" stroke="#333" stroke-width="1.2"/></svg>
<span style="top:403.40px;font-size:18.4px;line-height:18.4px;color:#df2326;-webkit-text-stroke:0.15px #df2326;left:20.3px;transform-origin:0 0;transform:scaleX(0.7478);">Характеристики (настенные блоки)</span>
<div style="left:21px;top:425px;width:215px;height:21px;background:#55636c;"></div>
<div style="left:237px;top:425px;width:140px;height:21px;background:#ed1c24;"></div>
<div style="left:378px;top:425px;width:140px;height:21px;background:#ed1c24;"></div>
<div style="left:519px;top:425px;width:140px;height:21px;background:#ed1c24;"></div>
<div style="left:660px;top:425px;width:140px;height:21px;background:#ed1c24;"></div>
<span style="top:430.64px;font-size:11px;line-height:11px;color:#fff;font-weight:700;-webkit-text-stroke:0.3px #fff;left:24.5px;transform-origin:0 0;transform:scaleX(0.7580);">Блок внутренний</span>
<span style="top:431.79px;font-size:9.8px;line-height:9.8px;color:#fff;font-weight:700;-webkit-text-stroke:0.4px #fff;left:274.05px;transform-origin:50% 0;transform:scaleX(0.8499);">ASYG07LUCA</span>
<span style="top:431.79px;font-size:9.8px;line-height:9.8px;color:#fff;font-weight:700;-webkit-text-stroke:0.4px #fff;left:415.05px;transform-origin:50% 0;transform:scaleX(0.8499);">ASYG09LUCA</span>
<span style="top:431.79px;font-size:9.8px;line-height:9.8px;color:#fff;font-weight:700;-webkit-text-stroke:0.4px #fff;left:556.05px;transform-origin:50% 0;transform:scaleX(0.8499);">ASYG12LUCA</span>
<span style="top:431.79px;font-size:9.8px;line-height:9.8px;color:#fff;font-weight:700;-webkit-text-stroke:0.4px #fff;left:696.10px;transform-origin:50% 0;transform:scaleX(0.8499);">ASYG14LUCA</span>
<div style="left:20px;top:457px;width:780px;height:1px;background:#1c1c1c;"></div>
<div style="left:20px;top:469px;width:780px;height:1px;background:#1c1c1c;"></div>
<div style="left:89px;top:480px;width:711px;height:1px;background:#1c1c1c;"></div>
<div style="left:20px;top:492px;width:780px;height:1px;background:#1c1c1c;"></div>
<div style="left:89px;top:503px;width:711px;height:1px;background:#1c1c1c;"></div>
<div style="left:20px;top:515px;width:780px;height:1px;background:#1c1c1c;"></div>
<div style="left:150px;top:526px;width:650px;height:1px;background:#1c1c1c;"></div>
<div style="left:20px;top:537px;width:780px;height:1px;background:#1c1c1c;"></div>
<div style="left:20px;top:548px;width:780px;height:1px;background:#1c1c1c;"></div>
<div style="left:150px;top:560px;width:650px;height:1px;background:#1c1c1c;"></div>
<div style="left:20px;top:572px;width:780px;height:1px;background:#1c1c1c;"></div>
<div style="left:20px;top:583px;width:780px;height:1px;background:#1c1c1c;"></div>
<div style="left:20px;top:447px;width:1px;height:137px;background:#1c1c1c;"></div>
<div style="left:799px;top:447px;width:1px;height:137px;background:#1c1c1c;"></div>
<div style="left:202px;top:447px;width:1px;height:125px;background:#1c1c1c;"></div>
<div style="left:236px;top:447px;width:1px;height:137px;background:#1c1c1c;"></div>
<div style="left:377px;top:447px;width:1px;height:125px;background:#1c1c1c;"></div>
<div style="left:518px;top:447px;width:1px;height:125px;background:#1c1c1c;"></div>
<div style="left:659px;top:447px;width:1px;height:125px;background:#1c1c1c;"></div>
<div style="left:89px;top:469px;width:1px;height:46px;background:#1c1c1c;"></div>
<div style="left:150px;top:469px;width:1px;height:68px;background:#1c1c1c;"></div>
<div style="left:150px;top:548px;width:1px;height:24px;background:#1c1c1c;"></div>
<span style="top:448.15px;font-size:10.8px;line-height:10.8px;color:#454547;left:22.3px;transform-origin:0 0;transform:scaleX(0.7522);">Холодопроизводительность</span>
<span style="top:459.51px;font-size:10.8px;line-height:10.8px;color:#454547;left:22.3px;transform-origin:0 0;transform:scaleX(0.7402);">Параметры электропитания</span>
<span style="top:475.55px;font-size:10.8px;line-height:10.8px;color:#454547;left:22.3px;transform-origin:0 0;transform:scaleX(0.7544);">Уровень шума</span>
<span style="top:499.05px;font-size:10.8px;line-height:10.8px;color:#454547;left:22.3px;transform-origin:0 0;transform:scaleX(0.7648);">Расход воздуха</span>
<span style="top:521.85px;font-size:10.8px;line-height:10.8px;color:#454547;left:22.3px;transform-origin:0 0;transform:scaleX(0.7433);">Габаритные размеры</span>
<span style="top:539.03px;font-size:10.8px;line-height:10.8px;color:#454547;left:22.3px;transform-origin:0 0;transform:scaleX(0.7650);">Вес</span>
<span style="top:556.25px;font-size:10.8px;line-height:10.8px;color:#454547;left:22.3px;transform-origin:0 0;transform:scaleX(0.7533);">Диаметр трубок</span>
<span style="top:573.11px;font-size:10.8px;line-height:10.8px;color:#454547;left:22.3px;transform-origin:0 0;transform:scaleX(0.7474);">Пульт управления (в комплекте)</span>
<span style="top:470.87px;font-size:10.8px;line-height:10.8px;color:#454547;left:91px;transform-origin:0 0;transform:scaleX(0.7399);">Охлаждение</span>
<span style="top:482.23px;font-size:10.8px;line-height:10.8px;color:#454547;left:91px;transform-origin:0 0;transform:scaleX(0.7607);">Нагрев</span>
<span style="top:493.59px;font-size:10.8px;line-height:10.8px;color:#454547;left:91px;transform-origin:0 0;transform:scaleX(0.7399);">Охлаждение</span>
<span style="top:504.95px;font-size:10.8px;line-height:10.8px;color:#454547;left:91px;transform-origin:0 0;transform:scaleX(0.7607);">Нагрев</span>
<span style="top:470.87px;font-size:10.8px;line-height:10.8px;color:#454547;left:152.4px;transform-origin:0 0;transform:scaleX(0.7708);">Т/Н/С/В</span>
<span style="top:482.23px;font-size:10.8px;line-height:10.8px;color:#454547;left:152.4px;transform-origin:0 0;transform:scaleX(0.7708);">Т/Н/С/В</span>
<span style="top:493.59px;font-size:10.8px;line-height:10.8px;color:#454547;left:152.4px;transform-origin:0 0;transform:scaleX(0.7708);">Т/Н/С/В</span>
<span style="top:504.95px;font-size:10.8px;line-height:10.8px;color:#454547;left:152.4px;transform-origin:0 0;transform:scaleX(0.7708);">Т/Н/С/В</span>
<span style="top:516.31px;font-size:10.8px;line-height:10.8px;color:#454547;left:152.4px;transform-origin:0 0;transform:scaleX(0.7670);">Блок</span>
<span style="top:527.67px;font-size:10.8px;line-height:10.8px;color:#454547;left:152.4px;transform-origin:0 0;transform:scaleX(0.7534);">Упаковка</span>
<span style="top:550.39px;font-size:10.8px;line-height:10.8px;color:#454547;left:152.4px;transform-origin:0 0;transform:scaleX(0.7633);">Жидкость</span>
<span style="top:561.75px;font-size:10.8px;line-height:10.8px;color:#454547;left:152.4px;transform-origin:0 0;transform:scaleX(0.7463);">Газ</span>
<span style="top:448.15px;font-size:10.8px;line-height:10.8px;color:#454547;left:211.24px;transform-origin:50% 0;transform:scaleX(0.7650);">кВт</span>
<span style="top:459.51px;font-size:10.8px;line-height:10.8px;color:#454547;left:200.94px;transform-origin:50% 0;transform:scaleX(0.7650);">ф./В/Гц</span>
<span style="top:470.87px;font-size:10.8px;line-height:10.8px;color:#454547;left:205.61px;transform-origin:50% 0;transform:scaleX(0.7650);">дБ(А)</span>
<span style="top:482.23px;font-size:10.8px;line-height:10.8px;color:#454547;left:205.61px;transform-origin:50% 0;transform:scaleX(0.7650);">дБ(А)</span>
<span style="top:493.59px;font-size:10.8px;line-height:10.8px;color:#454547;left:209.68px;transform-origin:50% 0;transform:scaleX(0.7650);">м³/ч</span>
<span style="top:504.95px;font-size:10.8px;line-height:10.8px;color:#454547;left:209.68px;transform-origin:50% 0;transform:scaleX(0.7650);">м³/ч</span>
<span style="top:516.31px;font-size:10.8px;line-height:10.8px;color:#454547;left:212.07px;transform-origin:50% 0;transform:scaleX(0.7650);">мм</span>
<span style="top:527.67px;font-size:10.8px;line-height:10.8px;color:#454547;left:212.07px;transform-origin:50% 0;transform:scaleX(0.7650);">мм</span>
<span style="top:539.03px;font-size:10.8px;line-height:10.8px;color:#454547;left:215.17px;transform-origin:50% 0;transform:scaleX(0.7650);">кг</span>
<span style="top:550.39px;font-size:10.8px;line-height:10.8px;color:#454547;left:212.07px;transform-origin:50% 0;transform:scaleX(0.7650);">мм</span>
<span style="top:561.75px;font-size:10.8px;line-height:10.8px;color:#454547;left:212.07px;transform-origin:50% 0;transform:scaleX(0.7650);">мм</span>
<span style="top:448.15px;font-size:10.8px;line-height:10.8px;color:#454547;left:296.49px;transform-origin:50% 0;transform:scaleX(0.7650);">2,05</span>
<span style="top:448.15px;font-size:10.8px;line-height:10.8px;color:#454547;left:437.49px;transform-origin:50% 0;transform:scaleX(0.7650);">2,64</span>
<span style="top:448.15px;font-size:10.8px;line-height:10.8px;color:#454547;left:578.49px;transform-origin:50% 0;transform:scaleX(0.7650);">3,52</span>
<span style="top:448.15px;font-size:10.8px;line-height:10.8px;color:#454547;left:721.94px;transform-origin:50% 0;transform:scaleX(0.7650);">4,1</span>
<span style="top:459.51px;font-size:10.8px;line-height:10.8px;color:#454547;left:279.98px;transform-origin:50% 0;transform:scaleX(0.7650);">1 / 230 / 50</span>
<span style="top:459.51px;font-size:10.8px;line-height:10.8px;color:#454547;left:420.98px;transform-origin:50% 0;transform:scaleX(0.7650);">1 / 230 / 50</span>
<span style="top:459.51px;font-size:10.8px;line-height:10.8px;color:#454547;left:561.98px;transform-origin:50% 0;transform:scaleX(0.7650);">1 / 230 / 50</span>
<span style="top:459.51px;font-size:10.8px;line-height:10.8px;color:#454547;left:702.43px;transform-origin:50% 0;transform:scaleX(0.7650);">1 / 230 / 50</span>
<span style="top:470.87px;font-size:10.8px;line-height:10.8px;color:#454547;left:269.48px;transform-origin:50% 0;transform:scaleX(0.7650);">21 / 28 / 30 / 35</span>
<span style="top:470.87px;font-size:10.8px;line-height:10.8px;color:#454547;left:410.48px;transform-origin:50% 0;transform:scaleX(0.7650);">21 / 28 / 32 / 36</span>
<span style="top:470.87px;font-size:10.8px;line-height:10.8px;color:#454547;left:551.48px;transform-origin:50% 0;transform:scaleX(0.7650);">21 / 31 / 34 / 37</span>
<span style="top:470.87px;font-size:10.8px;line-height:10.8px;color:#454547;left:691.93px;transform-origin:50% 0;transform:scaleX(0.7650);">25 / 33 / 36 / 41</span>
<span style="top:482.23px;font-size:10.8px;line-height:10.8px;color:#454547;left:269.48px;transform-origin:50% 0;transform:scaleX(0.7650);">21 / 28 / 30 / 35</span>
<span style="top:482.23px;font-size:10.8px;line-height:10.8px;color:#454547;left:410.48px;transform-origin:50% 0;transform:scaleX(0.7650);">21 / 28 / 32 / 36</span>
<span style="top:482.23px;font-size:10.8px;line-height:10.8px;color:#454547;left:551.48px;transform-origin:50% 0;transform:scaleX(0.7650);">21 / 31 / 34 / 37</span>
<span style="top:482.23px;font-size:10.8px;line-height:10.8px;color:#454547;left:691.93px;transform-origin:50% 0;transform:scaleX(0.7650);">27 / 34 / 36 / 41</span>
<span style="top:493.59px;font-size:10.8px;line-height:10.8px;color:#454547;left:257.46px;transform-origin:50% 0;transform:scaleX(0.7650);">330 / 470 / 520 / 570</span>
<span style="top:493.59px;font-size:10.8px;line-height:10.8px;color:#454547;left:398.46px;transform-origin:50% 0;transform:scaleX(0.7650);">330 / 470 / 550 / 600</span>
<span style="top:493.59px;font-size:10.8px;line-height:10.8px;color:#454547;left:539.46px;transform-origin:50% 0;transform:scaleX(0.7650);">330 / 530 / 600 / 660</span>
<span style="top:493.59px;font-size:10.8px;line-height:10.8px;color:#454547;left:679.91px;transform-origin:50% 0;transform:scaleX(0.7650);">390 / 570 / 640 / 710</span>
<span style="top:504.95px;font-size:10.8px;line-height:10.8px;color:#454547;left:257.46px;transform-origin:50% 0;transform:scaleX(0.7650);">330 / 470 / 520 / 570</span>
<span style="top:504.95px;font-size:10.8px;line-height:10.8px;color:#454547;left:398.46px;transform-origin:50% 0;transform:scaleX(0.7650);">330 / 470 / 550 / 600</span>
<span style="top:504.95px;font-size:10.8px;line-height:10.8px;color:#454547;left:539.46px;transform-origin:50% 0;transform:scaleX(0.7650);">330 / 530 / 600 / 660</span>
<span style="top:504.95px;font-size:10.8px;line-height:10.8px;color:#454547;left:679.91px;transform-origin:50% 0;transform:scaleX(0.7650);">430 / 590 / 640 / 710</span>
<span style="top:516.31px;font-size:10.8px;line-height:10.8px;color:#454547;left:273.67px;transform-origin:50% 0;transform:scaleX(0.7650);">282×870×185</span>
<span style="top:516.31px;font-size:10.8px;line-height:10.8px;color:#454547;left:414.67px;transform-origin:50% 0;transform:scaleX(0.7650);">282×870×185</span>
<span style="top:516.31px;font-size:10.8px;line-height:10.8px;color:#454547;left:555.67px;transform-origin:50% 0;transform:scaleX(0.7650);">282×870×185</span>
<span style="top:516.31px;font-size:10.8px;line-height:10.8px;color:#454547;left:696.12px;transform-origin:50% 0;transform:scaleX(0.7650);">282×870×185</span>
<span style="top:527.67px;font-size:10.8px;line-height:10.8px;color:#454547;left:273.67px;transform-origin:50% 0;transform:scaleX(0.7650);">247×920×373</span>
<span style="top:527.67px;font-size:10.8px;line-height:10.8px;color:#454547;left:414.67px;transform-origin:50% 0;transform:scaleX(0.7650);">247×920×373</span>
<span style="top:527.67px;font-size:10.8px;line-height:10.8px;color:#454547;left:555.67px;transform-origin:50% 0;transform:scaleX(0.7650);">247×920×373</span>
<span style="top:527.67px;font-size:10.8px;line-height:10.8px;color:#454547;left:696.12px;transform-origin:50% 0;transform:scaleX(0.7650);">247×920×373</span>
<span style="top:539.03px;font-size:10.8px;line-height:10.8px;color:#454547;left:299.49px;transform-origin:50% 0;transform:scaleX(0.7650);">9,5</span>
<span style="top:539.03px;font-size:10.8px;line-height:10.8px;color:#454547;left:440.49px;transform-origin:50% 0;transform:scaleX(0.7650);">9,5</span>
<span style="top:539.03px;font-size:10.8px;line-height:10.8px;color:#454547;left:581.49px;transform-origin:50% 0;transform:scaleX(0.7650);">9,5</span>
<span style="top:539.03px;font-size:10.8px;line-height:10.8px;color:#454547;left:721.94px;transform-origin:50% 0;transform:scaleX(0.7650);">9,5</span>
<span style="top:550.39px;font-size:10.8px;line-height:10.8px;color:#454547;left:292.29px;transform-origin:50% 0;transform:scaleX(0.7650);">Ø6,35</span>
<span style="top:550.39px;font-size:10.8px;line-height:10.8px;color:#454547;left:433.29px;transform-origin:50% 0;transform:scaleX(0.7650);">Ø6,35</span>
<span style="top:550.39px;font-size:10.8px;line-height:10.8px;color:#454547;left:574.29px;transform-origin:50% 0;transform:scaleX(0.7650);">Ø6,35</span>
<span style="top:550.39px;font-size:10.8px;line-height:10.8px;color:#454547;left:714.74px;transform-origin:50% 0;transform:scaleX(0.7650);">Ø6,35</span>
<span style="top:561.75px;font-size:10.8px;line-height:10.8px;color:#454547;left:292.29px;transform-origin:50% 0;transform:scaleX(0.7650);">Ø9,52</span>
<span style="top:561.75px;font-size:10.8px;line-height:10.8px;color:#454547;left:433.29px;transform-origin:50% 0;transform:scaleX(0.7650);">Ø9,52</span>
<span style="top:561.75px;font-size:10.8px;line-height:10.8px;color:#454547;left:574.29px;transform-origin:50% 0;transform:scaleX(0.7650);">Ø9,52</span>
<span style="top:561.75px;font-size:10.8px;line-height:10.8px;color:#454547;left:714.74px;transform-origin:50% 0;transform:scaleX(0.7650);">Ø12,7</span>
<span style="top:573.11px;font-size:10.8px;line-height:10.8px;color:#454547;left:491.49px;transform-origin:50% 0;transform:scaleX(0.7650);">AR-REA2E</span>
</body></html>
